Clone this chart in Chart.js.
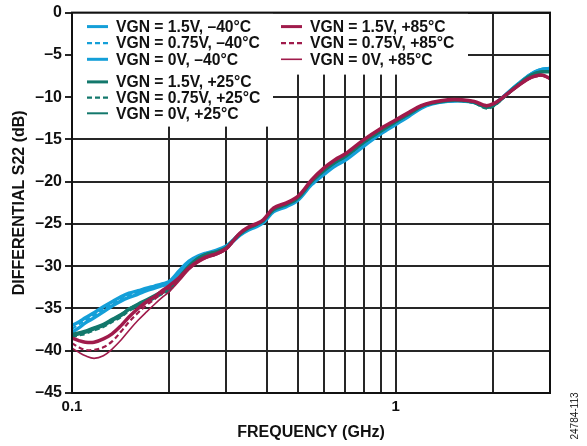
<!DOCTYPE html>
<html>
<head>
<meta charset="utf-8">
<title>Differential S22 vs Frequency</title>
<script src="https://cdn.jsdelivr.net/npm/chart.js@4/dist/chart.umd.min.js"></script>
<style>
  html, body { margin: 0; padding: 0; background: #fff; }
  #wrap { position: relative; width: 587px; height: 446px; }
  #fig-id {
    position: absolute; left: 545px; top: 410px; width: 60px; height: 12px;
    line-height: 12px; text-align: center; transform: rotate(-90deg);
    font: 10px 'Liberation Sans', Arial, sans-serif; color: #222;
  }
</style>
</head>
<body>
<div id="wrap">
  <canvas id="s22Chart" width="587" height="446"></canvas>
  <div id="fig-id">24784-113</div>
</div>
<script>
/* Differential S22 vs frequency - 9 curves (VGN x temperature) */

// frequency points, GHz
const freqGHz = [
  0.1, 0.105, 0.11, 0.117, 0.125, 0.133, 0.142, 0.15, 0.16, 0.17, 0.18, 0.19, 0.2,
  0.215, 0.23, 0.245, 0.26, 0.28, 0.3, 0.315, 0.33, 0.35, 0.37, 0.39, 0.42,
  0.46, 0.5, 0.55, 0.6, 0.65, 0.7, 0.8, 0.9, 1.0, 1.1, 1.2, 1.3,
  1.45, 1.6, 1.75, 1.9, 2.0, 2.1, 2.25, 2.4, 2.55, 2.7, 2.85, 3.0,
];

// -40°C
const blue15 = [
  -37.0, -36.6, -36.1, -35.5, -34.8, -34.2, -33.6, -33.2, -32.9, -32.6, -32.35, -32.1, -31.8,
  -30.5, -29.4, -28.8, -28.45, -28.1, -27.6, -26.9, -26.2, -25.6, -25.2, -24.7, -23.4,
  -22.8, -22.0, -20.2, -19.0, -18.0, -17.3, -15.6, -14.2, -13.1, -12.1, -11.2, -10.7,
  -10.45, -10.4, -10.6, -11.1, -10.9, -10.3, -9.3, -8.4, -7.6, -7.0, -6.7, -6.6,
];
const blue075 = [
  -37.4, -36.9, -36.4, -35.8, -35.1, -34.5, -33.9, -33.5, -33.1, -32.8, -32.5, -32.2, -31.9,
  -30.6, -29.5, -28.9, -28.55, -28.2, -27.7, -27.0, -26.3, -25.7, -25.3, -24.8, -23.5,
  -22.9, -22.1, -20.3, -19.1, -18.1, -17.4, -15.7, -14.3, -13.2, -12.2, -11.3, -10.75,
  -10.5, -10.45, -10.65, -11.2, -11.0, -10.4, -9.35, -8.45, -7.65, -7.05, -6.75, -6.65,
];
const blue0 = [
  -37.8, -37.3, -36.7, -36.1, -35.4, -34.7, -34.1, -33.7, -33.3, -32.9, -32.6, -32.3, -32.0,
  -30.7, -29.6, -29.0, -28.6, -28.25, -27.75, -27.05, -26.35, -25.75, -25.35, -24.85, -23.55,
  -22.95, -22.15, -20.35, -19.15, -18.15, -17.45, -15.75, -14.35, -13.25, -12.25, -11.3, -10.8,
  -10.5, -10.45, -10.65, -11.15, -10.95, -10.35, -9.3, -8.4, -7.6, -7.0, -6.7, -6.6,
];

// +25°C
const teal15 = [
  -38.2, -38.0, -37.8, -37.4, -37.0, -36.4, -35.8, -35.1, -34.6, -34.1, -33.6, -33.1, -32.7,
  -31.3, -30.0, -29.1, -28.6, -28.3, -27.8, -26.95, -26.2, -25.5, -25.1, -24.6, -23.3,
  -22.7, -21.9, -20.0, -18.7, -17.7, -17.0, -15.3, -14.0, -12.9, -12.0, -11.1, -10.7,
  -10.4, -10.4, -10.6, -11.2, -11.0, -10.4, -9.4, -8.5, -7.7, -7.2, -7.0, -7.0,
];
const teal075 = [
  -38.4, -38.2, -38.0, -37.6, -37.2, -36.6, -36.0, -35.3, -34.8, -34.3, -33.8, -33.3, -32.9,
  -31.4, -30.1, -29.2, -28.7, -28.4, -27.9, -27.0, -26.25, -25.55, -25.15, -24.65, -23.35,
  -22.75, -21.95, -20.05, -18.75, -17.75, -17.05, -15.35, -14.05, -12.95, -12.05, -11.15, -10.75,
  -10.45, -10.45, -10.7, -11.35, -11.15, -10.5, -9.45, -8.55, -7.75, -7.2, -6.95, -6.95,
];
const teal0 = [
  -38.0, -37.8, -37.6, -37.2, -36.8, -36.2, -35.6, -35.0, -34.4, -33.9, -33.4, -32.9, -32.5,
  -31.2, -29.9, -29.0, -28.55, -28.25, -27.75, -26.9, -26.15, -25.45, -25.05, -24.55, -23.25,
  -22.65, -21.85, -19.95, -18.65, -17.65, -16.95, -15.25, -13.95, -12.85, -11.95, -11.05, -10.65,
  -10.35, -10.35, -10.6, -11.15, -10.95, -10.35, -9.35, -8.45, -7.7, -7.15, -6.95, -6.95,
];

// +85°C
const red15 = [
  -38.5, -38.8, -39.0, -39.0, -38.6, -38.0, -37.0, -36.0, -35.0, -34.2, -33.6, -32.9, -32.3,
  -31.3, -30.2, -29.4, -28.9, -28.5, -27.9, -27.0, -26.1, -25.4, -25.0, -24.5, -23.1,
  -22.5, -21.7, -19.8, -18.4, -17.4, -16.7, -15.0, -13.7, -12.7, -11.8, -11.0, -10.6,
  -10.3, -10.3, -10.5, -11.0, -10.8, -10.3, -9.4, -8.6, -7.9, -7.5, -7.4, -7.8,
];
const red075 = [
  -39.1, -39.6, -39.9, -39.9, -39.6, -38.9, -37.7, -36.6, -35.5, -34.6, -33.9, -33.2, -32.6,
  -31.5, -30.3, -29.5, -29.0, -28.6, -28.0, -27.05, -26.15, -25.45, -25.05, -24.55, -23.15,
  -22.55, -21.75, -19.85, -18.45, -17.45, -16.75, -15.05, -13.75, -12.75, -11.85, -11.05, -10.65,
  -10.35, -10.35, -10.55, -11.05, -10.85, -10.35, -9.45, -8.65, -7.95, -7.55, -7.5, -7.85,
];
const red0 = [
  -39.7, -40.2, -40.6, -40.9, -40.6, -39.8, -38.7, -37.6, -36.4, -35.4, -34.5, -33.7, -33.0,
  -31.7, -30.4, -29.6, -29.05, -28.65, -28.05, -27.1, -26.2, -25.5, -25.1, -24.6, -23.2,
  -22.6, -21.8, -19.9, -18.5, -17.5, -16.8, -15.1, -13.8, -12.8, -11.9, -11.1, -10.7,
  -10.4, -10.4, -10.6, -11.1, -10.9, -10.4, -9.5, -8.7, -8.0, -7.6, -7.5, -7.9,
];

const seriesLabels = [
  'VGN = 1.5V, –40°C', 'VGN = 0.75V, –40°C', 'VGN = 0V, –40°C',
  'VGN = 1.5V, +25°C', 'VGN = 0.75V, +25°C', 'VGN = 0V, +25°C',
  'VGN = 1.5V, +85°C', 'VGN = 0.75V, +85°C', 'VGN = 0V, +85°C',
];

// axis ticks
const yTickValues = [0, -5, -10, -15, -20, -25, -30, -35, -40, -45];
const xGridValues = [0.1, 0.2, 0.3, 0.4, 0.5, 0.6, 0.7, 0.8, 0.9, 1, 2, 3];
const xTickLabels = [0.1, 1];

const FONT = "'Liberation Sans', Arial, Helvetica, sans-serif";
const BLUE = '#149fd8';
const TEAL = '#13786c';
const RED = '#a01b4b';
const INK = '#111111';
const GRID = '#262626';

function toPoints(values) {
  return freqGHz.map((f, i) => ({ x: f, y: values[i] }));
}

function lineDataset(label, values, color, width, dash, order) {
  return {
    label,
    data: toPoints(values),
    borderColor: color,
    borderWidth: width,
    borderDash: dash,
    pointRadius: 0,
    tension: 0.35,
    fill: false,
    order,
  };
}

// higher order is drawn first (underneath)
const datasets = [
  lineDataset(seriesLabels[0], blue15, BLUE, 3.5, [], 9),
  lineDataset(seriesLabels[1], blue075, BLUE, 2.2, [5, 3], 8),
  lineDataset(seriesLabels[2], blue0, BLUE, 3.5, [], 7),
  lineDataset(seriesLabels[3], teal15, TEAL, 3.5, [], 6),
  lineDataset(seriesLabels[4], teal075, TEAL, 2.2, [5, 3], 5),
  lineDataset(seriesLabels[5], teal0, TEAL, 2, [], 4),
  lineDataset(seriesLabels[6], red15, RED, 3.5, [], 3),
  lineDataset(seriesLabels[7], red075, RED, 2.2, [5, 3], 2),
  lineDataset(seriesLabels[8], red0, RED, 1.6, [], 1),
];

// legend rows: dataset index, offset from plot left/top
const LEGEND_ROWS = [
  { index: 0, dx: 15, dy: 14 },
  { index: 1, dx: 15, dy: 30.5 },
  { index: 2, dx: 15, dy: 46.7 },
  { index: 3, dx: 15, dy: 69.3 },
  { index: 4, dx: 15, dy: 85 },
  { index: 5, dx: 15, dy: 100.7 },
  { index: 6, dx: 209, dy: 14 },
  { index: 7, dx: 209, dy: 30.5 },
  { index: 8, dx: 209, dy: 46.7 },
];

const legendBoxes = {
  id: 'legendBoxes',
  beforeDatasetsDraw(chart) {
    const { ctx, chartArea: ca } = chart;
    ctx.save();
    // white boxes hide the grid behind the legend
    ctx.fillStyle = '#ffffff';
    ctx.fillRect(ca.left + 1, ca.top + 1, 200, 113);
    ctx.fillRect(ca.left + 1, ca.top + 1, 395, 61);

    ctx.font = `bold 15.7px ${FONT}`;
    ctx.textBaseline = 'middle';
    ctx.textAlign = 'left';
    LEGEND_ROWS.forEach((row) => {
      const ds = chart.data.datasets[row.index];
      const x = ca.left + row.dx;
      const y = ca.top + row.dy;
      ctx.beginPath();
      ctx.strokeStyle = ds.borderColor;
      ctx.lineWidth = Math.min(ds.borderWidth, 3);
      ctx.setLineDash(ds.borderDash || []);
      ctx.moveTo(x, y);
      ctx.lineTo(x + 21, y);
      ctx.stroke();
      ctx.setLineDash([]);
      ctx.fillStyle = INK;
      ctx.fillText(ds.label, x + 29, y + 1);
    });
    ctx.restore();
  },
};

const plotFrame = {
  id: 'plotFrame',
  afterDatasetsDraw(chart) {
    const { ctx, chartArea: ca } = chart;
    ctx.save();
    ctx.strokeStyle = INK;
    ctx.lineWidth = 2;
    ctx.strokeRect(ca.left, ca.top, ca.right - ca.left, ca.bottom - ca.top);
    ctx.restore();
  },
};

const canvas = document.getElementById('s22Chart');

new Chart(canvas.getContext('2d'), {
  type: 'line',
  data: { datasets },
  options: {
    responsive: false,
    animation: false,
    devicePixelRatio: 1,
    layout: { padding: { left: 0, top: 10, right: 37, bottom: 4 } },
    plugins: {
      legend: { display: false },
      tooltip: { enabled: false },
    },
    scales: {
      x: {
        type: 'logarithmic',
        min: 0.1,
        max: 3,
        afterBuildTicks(scale) {
          scale.ticks = xGridValues.map((v) => ({ value: v }));
        },
        afterFit(scale) { scale.height = 49; },
        grid: { color: GRID, lineWidth: 2, drawTicks: false },
        border: { display: false },
        ticks: {
          autoSkip: false,
          maxRotation: 0,
          padding: 5,
          color: INK,
          font: { family: FONT, size: 15, weight: 'bold' },
          callback: (value) => (xTickLabels.includes(value) ? String(value) : ''),
        },
        title: {
          display: true,
          text: 'FREQUENCY (GHz)',
          color: INK,
          font: { family: FONT, size: 16, weight: 'bold' },
          padding: { top: 0, bottom: 0 },
        },
      },
      y: {
        type: 'linear',
        min: -45,
        max: 0,
        afterBuildTicks(scale) {
          scale.ticks = yTickValues.map((v) => ({ value: v }));
        },
        afterFit(scale) { scale.width = 72; },
        grid: { color: GRID, lineWidth: 2, drawTicks: true, tickLength: 7 },
        border: { display: false },
        ticks: {
          padding: 3,
          color: INK,
          font: { family: FONT, size: 16, weight: 'bold' },
          callback: (value) => (value === 0 ? '0' : '–' + Math.abs(value)),
        },
        title: {
          display: true,
          text: 'DIFFERENTIAL S22 (dB)',
          color: INK,
          font: { family: FONT, size: 16, weight: 'bold' },
          padding: { top: 10, bottom: 0 },
        },
      },
    },
  },
  plugins: [legendBoxes, plotFrame],
});
</script>
</body>
</html>
